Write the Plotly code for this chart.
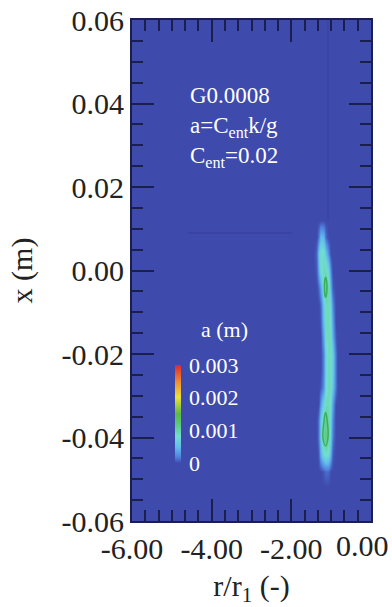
import plotly.graph_objects as go

# ---- data ----
r_vals = [-1.44, -1.38, -1.32, -1.26, -1.20, -1.14, -1.08, -1.02, -0.96, -0.90, -0.84, -0.78]
x_vals = [0.016, 0.012, 0.008, 0.004, 0.000, -0.004, -0.008, -0.012, -0.016,
          -0.020, -0.024, -0.028, -0.032, -0.036, -0.040, -0.044, -0.048, -0.052]
# a values in units of 1e-3 m, rows follow x_vals, columns follow r_vals
a_vals = [
    [0, 0,    0,    0,    0,    0,    0,    0,    0,    0,    0, 0],
    [0, 0,    0,    0,    0,    0,    0,    0,    0,    0,    0, 0],
    [0, 0,    0.15, 0.50, 0.45, 0.10, 0,    0,    0,    0,    0, 0],
    [0, 0.10, 0.55, 0.85, 0.85, 0.55, 0.20, 0,    0,    0,    0, 0],
    [0, 0.05, 0.40, 0.80, 0.90, 0.90, 0.65, 0.20, 0,    0,    0, 0],
    [0, 0,    0.10, 0.35, 0.85, 1.15, 0.90, 0.40, 0.05, 0,    0, 0],
    [0, 0,    0,    0.10, 0.60, 0.90, 0.90, 0.65, 0.20, 0,    0, 0],
    [0, 0,    0,    0.05, 0.50, 0.90, 0.90, 0.75, 0.30, 0,    0, 0],
    [0, 0,    0,    0,    0.35, 0.85, 0.90, 0.85, 0.40, 0.05, 0, 0],
    [0, 0,    0,    0,    0.20, 0.70, 0.90, 0.85, 0.60, 0.15, 0, 0],
    [0, 0,    0,    0,    0.20, 0.70, 0.90, 0.85, 0.60, 0.15, 0, 0],
    [0, 0,    0,    0.05, 0.25, 0.75, 0.90, 0.85, 0.55, 0.15, 0, 0],
    [0, 0,    0,    0.30, 0.70, 0.90, 0.90, 0.75, 0.30, 0,    0, 0],
    [0, 0,    0.15, 0.60, 0.95, 1.10, 0.95, 0.65, 0.20, 0,    0, 0],
    [0, 0,    0.15, 0.60, 1.05, 1.15, 1.00, 0.60, 0.15, 0,    0, 0],
    [0, 0,    0.05, 0.40, 0.75, 0.85, 0.75, 0.40, 0.05, 0,    0, 0],
    [0, 0,    0,    0,    0.05, 0.12, 0.10, 0,    0,    0,    0, 0],
    [0, 0,    0,    0,    0,    0,    0,    0,    0,    0,    0, 0],
]

cbar_vals = [0, 1, 2, 3]
cbar_text = ["0", "0.001", "0.002", "0.003"]

x_tick_vals = [-6, -4, -2, 0]
x_tick_text = ["-6.00", "-4.00", "-2.00", ""]
x_last_label = "0.00"
y_tick_vals = [0.06, 0.04, 0.02, 0.00, -0.02, -0.04, -0.06]
y_tick_text = ["0.06", "0.04", "0.02", "0.00", "-0.02", "-0.04", "-0.06"]

# faint artefact lines visible in the field
h_line_r = [-4.6, -2.0]
h_line_x = [0.0090, 0.0090]
v_line_r = [-1.08, -1.08]
v_line_x = [0.060, 0.012]

BG = "rgb(62,74,172)"
colorscale = [
    [0.00, BG],
    [0.06, "rgb(80,130,222)"],
    [0.16, "rgb(98,190,235)"],
    [0.27, "rgb(115,222,208)"],
    [0.40, "rgb(92,200,120)"],
    [0.50, "rgb(90,185,70)"],
    [0.67, "rgb(235,225,55)"],
    [0.83, "rgb(240,140,50)"],
    [1.00, "rgb(220,40,45)"],
]

SERIF = "Liberation Serif"
INK = "#222"
FRAME = "#1b1f4d"

fig = go.Figure()
fig.add_trace(go.Heatmap(
    x=r_vals, y=x_vals, z=a_vals, zmin=0, zmax=3, zsmooth="best",
    colorscale=colorscale, showscale=True,
    colorbar=dict(
        x=0.18, xanchor="left", xpad=0, y=0.2136, yanchor="middle", ypad=0,
        len=98, lenmode="pixels", thickness=6, outlinewidth=0,
        tickmode="array", tickvals=cbar_vals, ticktext=cbar_text,
        ticks="outside", ticklen=4, tickcolor="rgba(0,0,0,0)",
        tickfont=dict(family=SERIF, size=22, color="white"),
    ),
))
fig.add_trace(go.Contour(
    x=r_vals, y=x_vals, z=a_vals, showscale=False,
    contours=dict(coloring="none", start=1.0, end=1.0, size=1, showlines=True),
    line=dict(color="rgb(60,175,95)", width=1.5, smoothing=1.3),
    hoverinfo="skip",
))
fig.add_trace(go.Scatter(x=h_line_r, y=h_line_x, mode="lines",
                         line=dict(color="rgba(40,50,130,0.3)", width=1.5), hoverinfo="skip"))
fig.add_trace(go.Scatter(x=v_line_r, y=v_line_x, mode="lines",
                         line=dict(color="rgba(40,50,130,0.2)", width=1.5), hoverinfo="skip"))

fig.add_annotation(x=-4.6, y=0.0455, xref="x", yref="y", xanchor="left", yanchor="top",
                   align="left", showarrow=False,
                   text="G0.0008<br>a=C<sub>ent</sub>k/g<br>C<sub>ent</sub>=0.02",
                   font=dict(family=SERIF, size=23, color="white"))
fig.add_annotation(x=-3.67, y=-0.0142, xref="x", yref="y", xanchor="center", yanchor="middle",
                   showarrow=False, text="a (m)",
                   font=dict(family=SERIF, size=22, color="white"))
# last x tick label, kept inside the page as in the reference
fig.add_annotation(x=0, y=0, xref="x", yref="paper", xanchor="right", yanchor="top",
                   xshift=20, yshift=-6, showarrow=False, text=x_last_label,
                   font=dict(family=SERIF, size=30, color=INK))

axis_common = dict(
    showline=True, linecolor=FRAME, linewidth=2, mirror="allticks",
    ticks="inside", tickcolor=FRAME, tickwidth=2, ticklen=22,
    showgrid=False, zeroline=False, automargin=False,
    tickfont=dict(family=SERIF, size=30, color=INK),
)

fig.update_xaxes(range=[-6, 0], tickmode="array", tickvals=x_tick_vals, ticktext=x_tick_text,
                 minor=dict(ticks="inside", dtick=1/3, tick0=-6, ticklen=11,
                            tickcolor=FRAME, tickwidth=2, showgrid=False),
                 title=dict(text="r/r<sub>1</sub> (-)", font=dict(family=SERIF, size=30, color=INK),
                            standoff=12),
                 **axis_common)
fig.update_yaxes(range=[-0.06, 0.06], tickmode="array", tickvals=y_tick_vals, ticktext=y_tick_text,
                 minor=dict(ticks="inside", dtick=0.005, tick0=0, ticklen=11,
                            tickcolor=FRAME, tickwidth=2, showgrid=False),
                 title=dict(text="x (m)", font=dict(family=SERIF, size=30, color=INK),
                            standoff=20),
                 **axis_common)

fig.update_layout(
    width=392, height=607,
    margin=dict(l=132, r=21, t=20, b=86),
    plot_bgcolor=BG, paper_bgcolor="white",
    showlegend=False,
)

fig.write_html("out.html")
